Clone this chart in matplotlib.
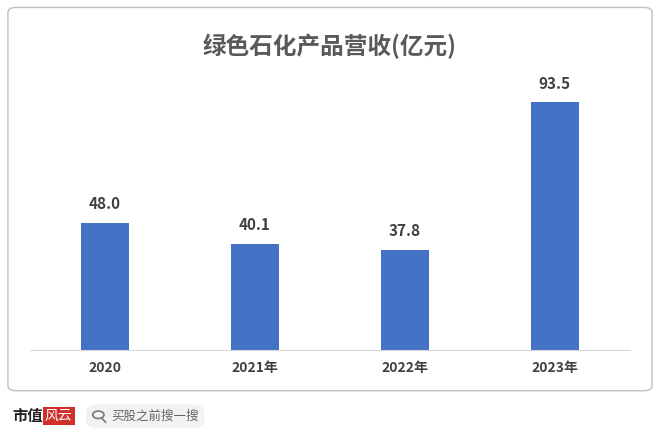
import matplotlib.pyplot as plt
from matplotlib.patches import FancyBboxPatch, Circle
from matplotlib.lines import Line2D

plt.rcParams['font.family'] = ['Noto Sans CJK SC', 'DejaVu Sans']

years = ["2020", "2021年", "2022年", "2023年"]
revenue = [48.0, 40.1, 37.8, 93.5]

fig = plt.figure(figsize=(6.6, 4.38), dpi=100)
fig.patch.set_facecolor("white")
box = FancyBboxPatch((0.012, 0.108), 0.976, 0.875, boxstyle="round,pad=0,rounding_size=0.012",
                     transform=fig.transFigure, facecolor="white", edgecolor="#bfbfbf", lw=1, zorder=0)
fig.patches.append(box)

ax = fig.add_axes([0.045, 0.201, 0.909, 0.605], zorder=2)
ax.patch.set_alpha(0)
x = range(len(years))
ax.bar(x, revenue, width=0.32, color="#4472C4")
for i, v in zip(x, revenue):
    ax.text(i, v + 4, f"{v:.1f}", ha="center", va="bottom", fontsize=11, fontweight="bold", color="#404040")
ax.set_xlim(-0.5, 3.5)
ax.set_ylim(0, 100)
ax.set_xticks(list(x))
ax.set_xticklabels(years, fontsize=10, fontweight="bold", color="#404040")
ax.tick_params(axis="x", length=0, pad=8)
ax.set_yticks([])
for s in ["top", "right", "left"]:
    ax.spines[s].set_visible(False)
ax.spines["bottom"].set_color("#d9d9d9")

fig.text(0.5, 0.895, "绿色石化产品营收(亿元)", ha="center", va="center", fontsize=17,
         fontweight="bold", color="#595959")

fig.text(0.018, 0.05, "市值", fontsize=11, fontweight="bold", color="#222222", va="center")
fig.text(0.068, 0.05, "风云", fontsize=10, color="white", va="center",
         bbox=dict(boxstyle="square,pad=0.15", fc="#d0302a", ec="none"))
search = FancyBboxPatch((0.13, 0.022), 0.18, 0.055, boxstyle="round,pad=0,rounding_size=0.02",
                        transform=fig.transFigure, facecolor="#f2f2f2", edgecolor="none")
fig.patches.append(search)
fig.patches.append(Circle((0.149, 0.053), 0.0085, transform=fig.transFigure, fill=False,
                          edgecolor="#777777", lw=1.2))
fig.lines.append(Line2D([0.155, 0.160], [0.044, 0.036], transform=fig.transFigure, color="#777777", lw=1.2))
fig.text(0.168, 0.05, "买股之前搜一搜", fontsize=9, color="#666666", va="center")

fig.savefig("out.png", dpi=100)
